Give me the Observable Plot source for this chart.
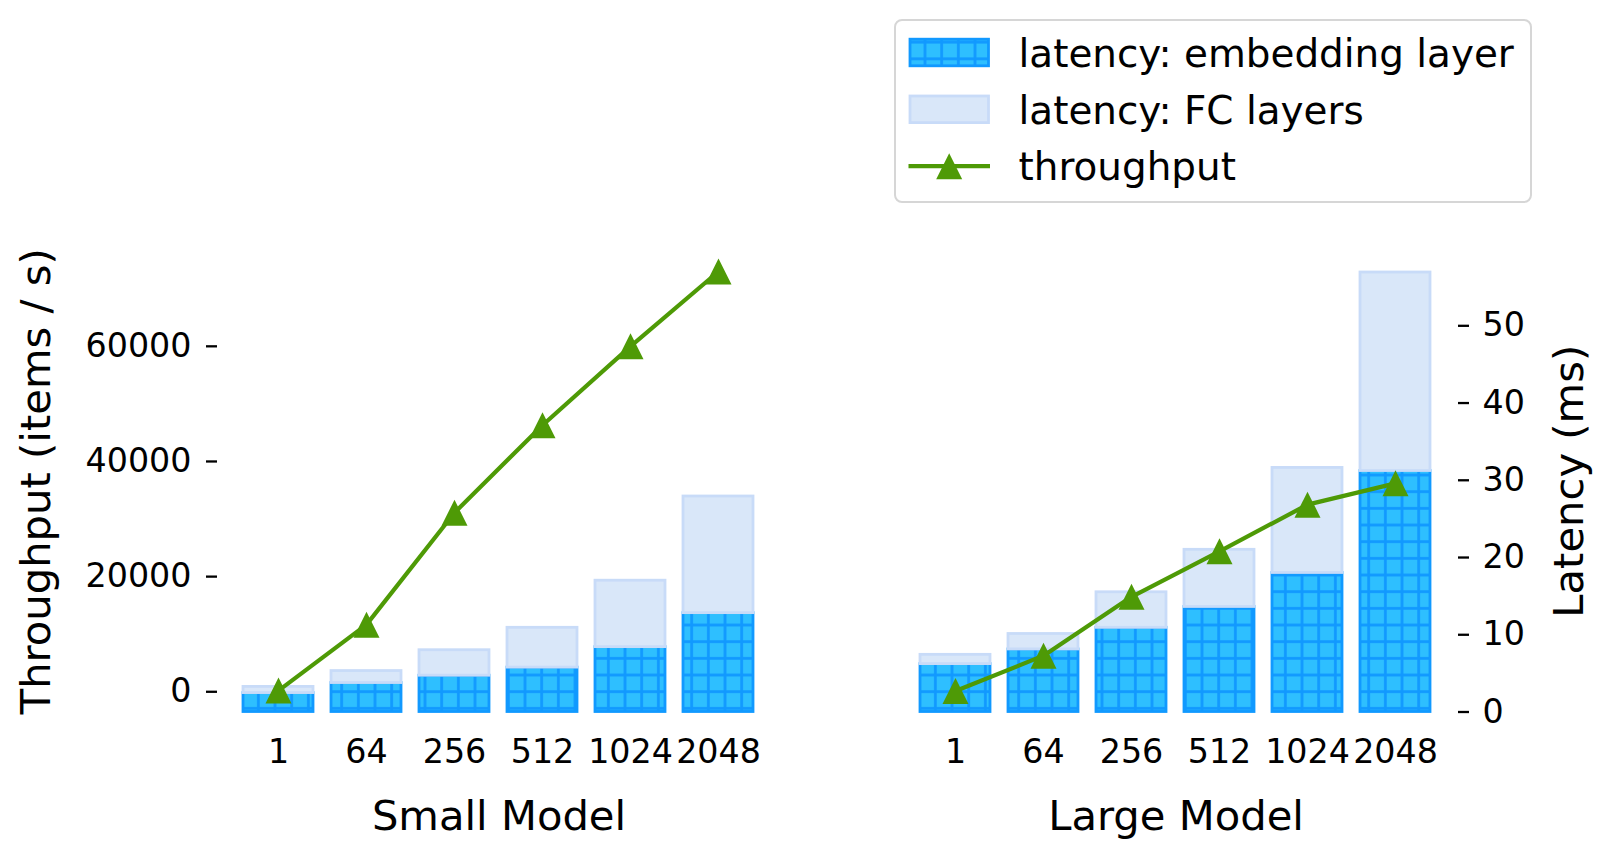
<!DOCTYPE html>
<html>
<head>
<meta charset="utf-8">
<script src="https://cdn.jsdelivr.net/npm/d3@7"></script>
<script src="https://cdn.jsdelivr.net/npm/@observablehq/plot@0.6"></script>
<style>
  html, body { margin: 0; padding: 0; background: #fff; }
  #wrap { position: relative; width: 1611px; height: 856px; font-family: "DejaVu Sans", sans-serif; }
  #wrap > svg { position: absolute; left: 0; top: 0; }
</style>
</head>
<body>
<div id="wrap"></div>
<script>
// ---------------- data ----------------
const batches = ["1", "64", "256", "512", "1024", "2048"];
const models = ["Small Model", "Large Model"];
const smallEmbedding = [2.45, 3.75, 4.7, 5.75, 8.4, 12.8];      // ms
const smallFC = [0.8, 1.55, 3.3, 5.15, 8.6, 15.1];              // ms
const smallThroughput = [200, 11660, 31100, 46300, 60000, 73000]; // items/s
const largeEmbedding = [6.2, 8.1, 10.9, 13.6, 18.0, 31.2];      // ms
const largeFC = [1.2, 2.0, 4.6, 7.4, 13.6, 25.7];               // ms
const largeThroughput = [130, 6270, 16500, 24400, 32500, 36200]; // items/s
const throughputTicks = [0, 20000, 40000, 60000];
const latencyTicks = [0, 10, 20, 30, 40, 50];
const legendLabels = ["latency: embedding layer", "latency: FC layers", "throughput"];
const axisLabels = {throughput: "Throughput (items / s)", latency: "Latency (ms)"};

// ---------------- styles ----------------
const EMB_FACE = "#2ebfff", EMB_EDGE = "#1199ff";
const FC_FACE = "#d9e7f9", FC_EDGE = "#c8dbf8";
const GREEN = "#4e9a06";
const FONT = "DejaVu Sans";

const rows = [];
models.forEach((m, k) => {
  const emb = k ? largeEmbedding : smallEmbedding;
  const fc = k ? largeFC : smallFC;
  const thr = k ? largeThroughput : smallThroughput;
  batches.forEach((b, i) => rows.push({model: m, batch: b, embedding: emb[i], fc: fc[i], throughput: thr[i]}));
});

const W = 1611, H = 856;
const common = {
  width: W, height: H,
  marginLeft: 217, marginRight: 153, marginTop: 250, marginBottom: 144.5,
  fx: {domain: models, paddingInner: 0.168, paddingOuter: 0, axis: null, label: null},
  x: {type: "band", domain: batches, paddingInner: 0.2, paddingOuter: 0.29, axis: null, label: null},
  style: {background: "transparent", fontFamily: FONT, color: "#000", overflow: "visible"}
};

// triangle like matplotlib '^' (centred on its bounding box)
const triangle = {
  draw(context, size) {
    const r = Math.sqrt(size / Math.PI);
    context.moveTo(0, -r);
    context.lineTo(r, r);
    context.lineTo(-r, r);
    context.closePath();
  }
};

function addHatch(svg, id, x, y) {
  const s = 16.667;
  const defs = d3.select(svg).insert("defs", ":first-child");
  const p = defs.append("pattern").attr("id", id).attr("patternUnits", "userSpaceOnUse")
    .attr("width", s).attr("height", s).attr("x", x).attr("y", y);
  p.append("rect").attr("width", s).attr("height", s).attr("fill", EMB_FACE);
  p.append("line").attr("x1", s / 2).attr("x2", s / 2).attr("y1", 0).attr("y2", s)
    .attr("stroke", EMB_EDGE).attr("stroke-width", 2.8);
  p.append("line").attr("x1", 0).attr("x2", s).attr("y1", s / 2).attr("y2", s / 2)
    .attr("stroke", EMB_EDGE).attr("stroke-width", 2.8);
}

// -------- layer 1: latency bars (right axis) --------
const plotA = Plot.plot({
  ...common,
  y: {domain: [0, 59.75], axis: null, label: null},
  marks: [
    Plot.barY(rows, {fx: "model", x: "batch", y1: 0, y2: "embedding",
      fill: "url(#hatch)", stroke: EMB_EDGE, strokeWidth: 2.8}),
    Plot.barY(rows, {fx: "model", x: "batch", y1: "embedding", y2: d => d.embedding + d.fc,
      fill: FC_FACE, stroke: FC_EDGE, strokeWidth: 2.8}),
    Plot.axisY(latencyTicks, {anchor: "right", tickSize: 11, tickPadding: 14, strokeWidth: 2.3,
      fontSize: 33.3, label: null, tickFormat: d3.format("d")}),
    Plot.axisX({tickSize: 0, tickPadding: 27.7, fontSize: 33.3, label: null}),
    Plot.text(models, {fx: d => d, text: d => d, frameAnchor: "bottom", dy: 104.5,
      lineAnchor: "middle", textAnchor: "middle", fontSize: 41.7}),
    Plot.text([axisLabels.latency], {fx: ["Large Model"], text: d => d, frameAnchor: "right",
      dx: 112, rotate: -90, textAnchor: "middle", lineAnchor: "middle", fontSize: 41.7})
  ]
});
addHatch(plotA, "hatch", 0, 0);

// -------- layer 2: throughput line (left axis) --------
const plotB = Plot.plot({
  ...common,
  y: {domain: [-3513, 76643], axis: null, label: null},
  marks: [
    Plot.line(rows, {fx: "model", x: "batch", y: "throughput", stroke: GREEN, strokeWidth: 4.2}),
    Plot.dot(rows, {fx: "model", x: "batch", y: "throughput", symbol: triangle, r: 13,
      fill: GREEN, stroke: "none"}),
    Plot.axisY(throughputTicks, {anchor: "left", tickSize: 11, tickPadding: 15, strokeWidth: 2.3,
      fontSize: 33.3, label: null, tickFormat: d3.format("d")}),
    Plot.text([axisLabels.throughput], {fx: ["Small Model"], text: d => d, frameAnchor: "left",
      dx: -181, rotate: -90, textAnchor: "middle", lineAnchor: "middle", fontSize: 41.7})
  ]
});

const wrap = document.getElementById("wrap");
wrap.appendChild(plotA);
wrap.appendChild(plotB);

// -------- legend --------
{
  const lg = d3.select(wrap).append("svg")
    .attr("width", 638).attr("height", 184)
    .style("left", "894px").style("top", "18.5px");
  addHatch(lg.node(), "hatchL", 6.0, 14.83);

  lg.append("rect").attr("x", 1).attr("y", 1).attr("width", 636).attr("height", 182)
    .attr("rx", 7).attr("fill", "#fff").attr("stroke", "#d6d6d6").attr("stroke-width", 2);
  const centers = [33.5, 90.3, 147.2];
  const baselines = [48.2, 104.8, 160.8];
  lg.append("rect").attr("x", 16).attr("y", centers[0] - 13.3).attr("width", 78.5).attr("height", 26.6)
    .attr("fill", "url(#hatchL)").attr("stroke", EMB_EDGE).attr("stroke-width", 2.8);
  lg.append("rect").attr("x", 16).attr("y", centers[1] - 13.3).attr("width", 78.5).attr("height", 26.6)
    .attr("fill", FC_FACE).attr("stroke", FC_EDGE).attr("stroke-width", 2.8);
  lg.append("line").attr("x1", 14.5).attr("x2", 96).attr("y1", centers[2]).attr("y2", centers[2])
    .attr("stroke", GREEN).attr("stroke-width", 4.2);
  const cx = 55.2, cy = centers[2], r = 13;
  lg.append("path").attr("d", `M${cx},${cy - r}L${cx + r},${cy + r}L${cx - r},${cy + r}Z`).attr("fill", GREEN);
  lg.selectAll("text.lab").data(legendLabels).join("text").attr("class", "lab")
    .attr("x", 124.5).attr("y", (d, i) => baselines[i])
    .attr("font-family", FONT).attr("font-size", 38.9).attr("fill", "#000")
    .text(d => d);
}
</script>
</body>
</html>
